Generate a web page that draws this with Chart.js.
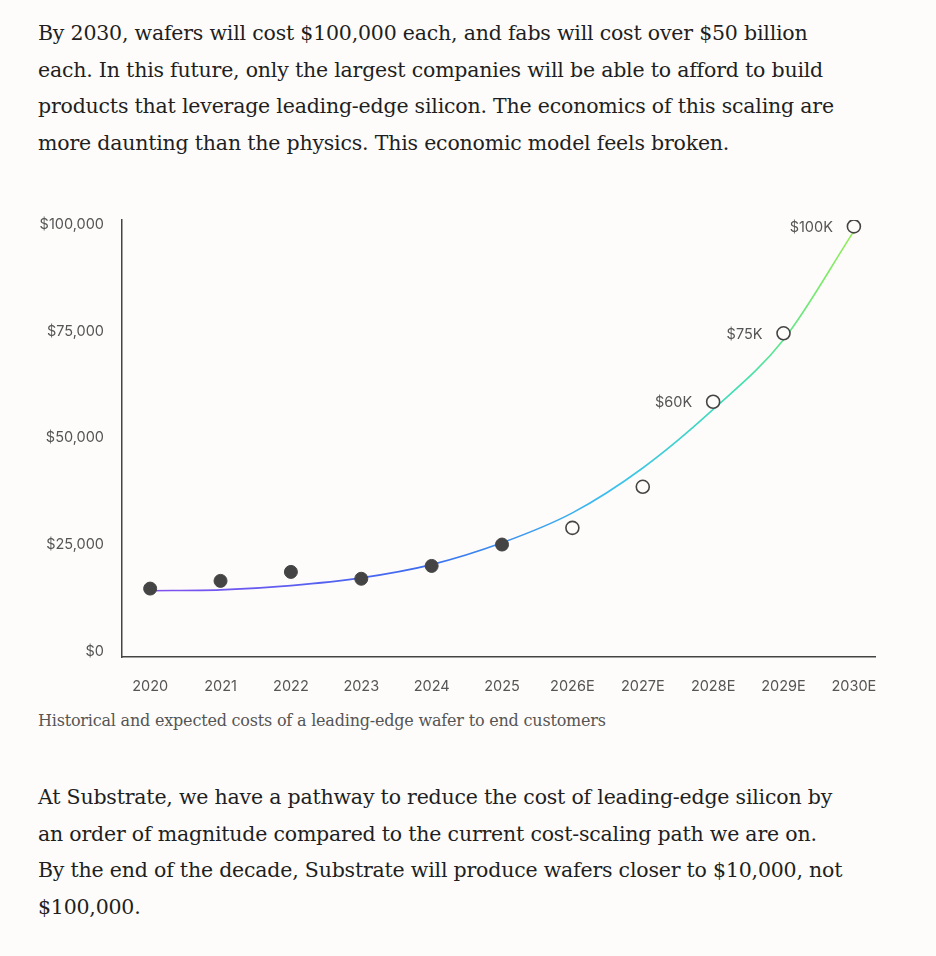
<!DOCTYPE html>
<html>
<head>
<meta charset="utf-8">
<script src="https://cdn.jsdelivr.net/npm/chart.js@4/dist/chart.umd.min.js"></script>
<style>
  body{margin:0;background:#fdfcfa;width:936px;height:956px;position:relative;overflow:hidden;font-family:"DejaVu Serif",serif;color:#1f1f1f;}
  p{position:absolute;left:38px;margin:0;font-size:20.5px;line-height:36.7px;letter-spacing:-0.2px;}
  #top{top:15px;}
  #bottom{top:779px;}
  #cap{top:710px;font-size:16px;color:#555;line-height:22px;}
  #wrap{position:absolute;left:0;top:190px;width:900px;height:520px;}
</style>
</head>
<body>
<p id="top">By 2030, wafers will cost $100,000 each, and fabs will cost over $50 billion<br>each. In this future, only the largest companies will be able to afford to build<br>products that leverage leading-edge silicon. The economics of this scaling are<br>more daunting than the physics. This economic model feels broken.</p>
<div id="wrap"><canvas id="c"></canvas></div>
<p id="cap">Historical and expected costs of a leading-edge wafer to end customers</p>
<p id="bottom">At Substrate, we have a pathway to reduce the cost of leading-edge silicon by<br>an order of magnitude compared to the current cost-scaling path we are on.<br>By the end of the decade, Substrate will produce wafers closer to $10,000, not<br>$100,000.</p>
<script>
const years = ['2020','2021','2022','2023','2024','2025','2026E','2027E','2028E','2029E','2030E'];
const actual = [14800, 16600, 18700, 17100, 20100, 25100];
const expected = [29000, 38600, 58500, 74500, 99500];
const expectedLabels = ['', '', '$60K', '$75K', '$100K'];
const trend = [14300, 14500, 15500, 17300, 20400, 25500, 32500, 43000, 56700, 73000, 98400];
const yTicks = [0, 25000, 50000, 75000, 100000];

const tickFont = {family:'Inter, "Noto Sans", sans-serif', size:14.5};

const pointLabels = {
  id:'pointLabels',
  afterDatasetsDraw(chart){
    const {ctx, scales:{x,y}} = chart;
    ctx.save();
    ctx.font = '14.5px Inter, "Noto Sans", sans-serif';
    ctx.fillStyle = '#555';
    ctx.textAlign = 'right';
    ctx.textBaseline = 'middle';
    expected.forEach((v,i)=>{
      if(!expectedLabels[i]) return;
      ctx.fillText(expectedLabels[i], x.getPixelForValue(i+6)-21, y.getPixelForValue(v)+1);
    });
    ctx.restore();
  }
};

new Chart(document.getElementById('c'), {
  type:'line',
  data:{
    datasets:[
      {
        data: trend.map((v,i)=>({x:i,y:v})),
        borderWidth:1.6,
        pointRadius:0,
        tension:0.4,
        cubicInterpolationMode:'monotone',
        borderColor(ctx){
          const a = ctx.chart.chartArea;
          if(!a) return '#6a5cf0';
          const g = ctx.chart.ctx.createLinearGradient(a.left,0,a.right,0);
          g.addColorStop(0,'#8a4cf0');
          g.addColorStop(0.4,'#3b6cf0');
          g.addColorStop(0.65,'#3cc0f0');
          g.addColorStop(0.82,'#40e0b0');
          g.addColorStop(1,'#a0f040');
          return g;
        },
        order:2
      },
      {
        data: actual.map((v,i)=>({x:i,y:v})),
        showLine:false,
        pointRadius:6.5,
        pointBackgroundColor:'#444',
        pointBorderColor:'#444',
        order:1
      },
      {
        data: expected.map((v,i)=>({x:i+6,y:v})),
        showLine:false,
        pointRadius:6.5,
        pointBorderWidth:1.6,
        pointBackgroundColor:'#fdfcfa',
        pointBorderColor:'#444',
        order:1
      }
    ]
  },
  options:{
    responsive:true,
    maintainAspectRatio:false,
    animation:false,
    layout:{padding:{top:30,right:25}},
    plugins:{legend:{display:false},tooltip:{enabled:false}},
    scales:{
      x:{
        type:'linear', min:-0.4, max:10.3,
        grid:{display:false},
        border:{color:'#444',width:1.5},
        afterBuildTicks(s){ s.ticks = years.map((_,i)=>({value:i})); },
        afterFit(s){ s.height = 53; },
        ticks:{color:'#555',font:tickFont,padding:13,maxRotation:0,callback:(v)=>years[v]}
      },
      y:{
        min:-1200, max:101000,
        grid:{display:false},
        border:{color:'#444',width:1.5},
        afterBuildTicks(s){ s.ticks = yTicks.map(v=>({value:v})); },
        afterFit(s){ s.width = 122; },
        ticks:{color:'#555',font:tickFont,padding:10,callback:(v)=>'$'+v.toLocaleString('en-US')}
      }
    }
  },
  plugins:[pointLabels]
});
</script>
</body>
</html>
